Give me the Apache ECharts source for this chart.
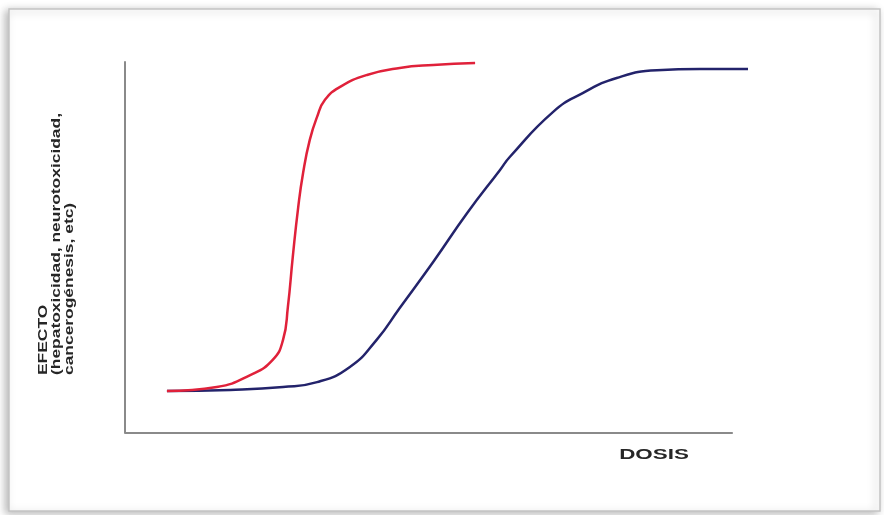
<!DOCTYPE html>
<html>
<head>
<meta charset="utf-8">
<script src="https://cdn.jsdelivr.net/npm/echarts@6/dist/echarts.min.js"></script>
<style>
html,body{margin:0;padding:0;background:#fff;}
#chart{width:884px;height:515px;}
</style>
</head>
<body>
<div id="chart"></div>
<script>
// Dose (x) and effect (y), arbitrary units (axis drawn 0-100)
const redDose   = [6.9, 15.1, 20.6, 24.3, 26.0, 26.8, 27.6, 28.5, 29.3, 30.4, 31.6, 32.9, 35.4, 39.8, 45.2, 50.7, 57.6];
const redEffect = [11.3, 12.4, 15.6, 19.7, 25.1, 34.0, 47.4, 60.9, 70.1, 79.0, 85.2, 89.8, 93.3, 96.5, 98.4, 99.2, 99.7];

const blueDose   = [6.9, 17.3, 26.0, 31.6, 37.0, 41.4, 45.2, 50.7, 56.3, 61.7, 63.3, 70.4, 75.3, 80.9, 87.5, 94.6, 102.5];
const blueEffect = [11.3, 11.6, 12.4, 13.7, 17.8, 25.1, 33.7, 46.1, 59.3, 70.9, 74.4, 86.5, 91.6, 95.7, 97.8, 98.1, 98.1];

const axisEnd = 100;   // the drawn dose axis stops here
const xTitle = 'DOSIS';
const yTitleLines = ['EFECTO', '(hepatoxicidad, neurotoxicidad,', 'cancerogénesis, etc)'];

const pairs = (xs, ys) => xs.map((v, i) => [v, ys[i]]);

const chart = echarts.init(document.getElementById('chart'));
const font = '"Liberation Sans", Arial, sans-serif';
const axisColor = '#8a8a8a';

chart.setOption({
  backgroundColor: '#ffffff',
  animation: false,
  grid: { left: 125, right: 136, top: 62, bottom: 82 },
  xAxis: {
    type: 'value', min: 0, max: 102.5,
    axisLine: { show: false },
    axisTick: { show: false }, axisLabel: { show: false }, splitLine: { show: false }
  },
  yAxis: {
    type: 'value', min: 0, max: 100,
    axisLine: { show: true, lineStyle: { color: axisColor, width: 2 } },
    axisTick: { show: false }, axisLabel: { show: false }, splitLine: { show: false }
  },
  graphic: [
    {
      type: 'rect', z: -10, silent: true,
      shape: { x: 9, y: 9, width: 871, height: 502 },
      style: { fill: '#ffffff', stroke: '#c4c4c4', lineWidth: 1.5,
               shadowBlur: 8, shadowColor: 'rgba(0,0,0,0.28)', shadowOffsetX: -3, shadowOffsetY: 2 }
    },
    {
      type: 'text', x: 654, y: 455, scaleX: 1.6,
      style: { text: xTitle, fill: '#262626', font: 'bold 14px ' + font, align: 'center', verticalAlign: 'middle' }
    },
    {
      type: 'text', x: 44, y: 375, rotation: Math.PI / 2, scaleX: 1.45,
      style: { text: yTitleLines[0], fill: '#262626', font: 'bold 12px ' + font, align: 'left', verticalAlign: 'middle' }
    },
    {
      type: 'text', x: 57, y: 375, rotation: Math.PI / 2, scaleX: 1.45,
      style: { text: yTitleLines[1], fill: '#262626', font: 'bold 12px ' + font, align: 'left', verticalAlign: 'middle' }
    },
    {
      type: 'text', x: 70, y: 375, rotation: Math.PI / 2, scaleX: 1.45,
      style: { text: yTitleLines[2], fill: '#262626', font: 'bold 12px ' + font, align: 'left', verticalAlign: 'middle' }
    }
  ],
  series: [
    {
      type: 'line', data: pairs(redDose, redEffect), smooth: 0.5,
      showSymbol: false, clip: false, z: 3,
      lineStyle: { color: '#e0213a', width: 2.5 },
      markLine: {
        silent: true, symbol: 'none', label: { show: false },
        lineStyle: { color: axisColor, width: 2, type: 'solid' },
        data: [[{ coord: [0, 0] }, { coord: [axisEnd, 0] }]]
      }
    },
    {
      type: 'line', data: pairs(blueDose, blueEffect), smooth: 0.5,
      showSymbol: false, clip: false, z: 2,
      lineStyle: { color: '#23236b', width: 2.5 }
    }
  ]
});
</script>
</body>
</html>
